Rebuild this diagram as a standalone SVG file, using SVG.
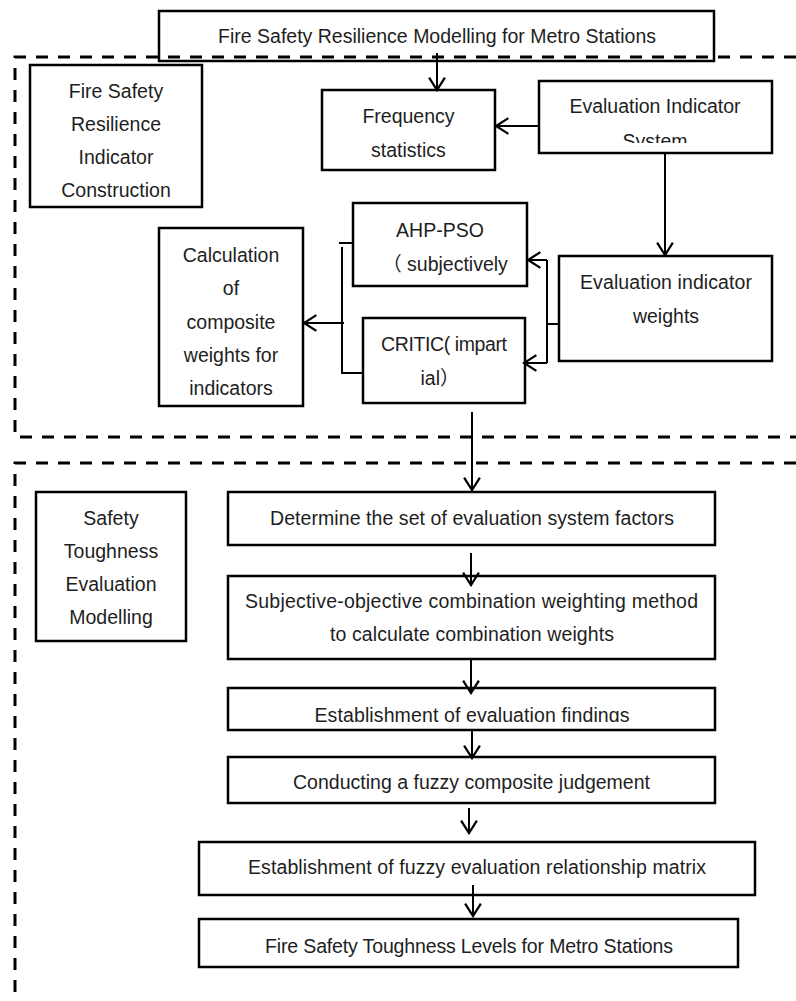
<svg xmlns="http://www.w3.org/2000/svg" width="796" height="1001" viewBox="0 0 796 1001">
<style>
.box{fill:#fff;stroke:#000;stroke-width:2.5}
.t{font-family:"Liberation Sans",Arial,"Noto Sans CJK SC",sans-serif;font-size:19.5px;fill:#1e1e1e;text-anchor:middle}
.c{fill:none;stroke:#000;stroke-width:2}
.dash{fill:none;stroke:#000;stroke-width:3;stroke-dasharray:12 10}
</style>
<defs>
<marker id="arr" markerUnits="userSpaceOnUse" markerWidth="16" markerHeight="18" refX="12" refY="8" orient="auto" viewBox="0 0 14 16">
<path d="M1,1 L12,8 L1,15" fill="none" stroke="#000" stroke-width="2"/>
</marker>
<clipPath id="clipSys"><rect x="539" y="81" width="233" height="62"/></clipPath>
<clipPath id="clipFind"><rect x="228" y="688" width="487" height="34"/></clipPath>
</defs>
<rect width="796" height="1001" fill="#fff"/>

<g id="title">
<rect class="box" x="159" y="11" width="555" height="50"/>
<text class="t" x="437" y="43" textLength="438">Fire Safety Resilience  Modelling for Metro Stations</text>
</g>

<g id="label-construction">
<rect class="box" x="30" y="65" width="172" height="142"/>
<text class="t" x="116" y="98">Fire Safety</text>
<text class="t" x="116" y="131">Resilience</text>
<text class="t" x="116" y="164">Indicator</text>
<text class="t" x="116" y="197">Construction</text>
</g>

<g id="frequency">
<rect class="box" x="322" y="90" width="173" height="80"/>
<text class="t" x="408.5" y="123">Frequency</text>
<text class="t" x="408.5" y="157">statistics</text>
</g>

<g id="eval-system">
<rect class="box" x="539" y="81" width="233" height="72"/>
<text class="t" x="655" y="113" textLength="171">Evaluation Indicator</text>
<text class="t" x="655" y="148" clip-path="url(#clipSys)">System</text>
</g>

<g id="eval-weights">
<rect class="box" x="559" y="256" width="213" height="105"/>
<text class="t" x="666" y="289" textLength="172">Evaluation indicator</text>
<text class="t" x="666" y="323">weights</text>
</g>

<g id="ahp">
<rect class="box" x="353" y="203" width="174" height="83"/>
<text class="t" x="440" y="237">AHP-PSO</text>
<text class="t" x="445" y="271">（ subjectively</text>
</g>

<g id="critic">
<rect class="box" x="363" y="318" width="162" height="85"/>
<text class="t" x="444" y="351" textLength="126">CRITIC( impart</text>
<text class="t" x="440" y="385">ial）</text>
</g>

<g id="calc">
<rect class="box" x="159" y="228" width="144" height="178"/>
<text class="t" x="231" y="262">Calculation</text>
<text class="t" x="231" y="295">of</text>
<text class="t" x="231" y="329">composite</text>
<text class="t" x="231" y="362">weights for</text>
<text class="t" x="231" y="395">indicators</text>
</g>

<g id="label-modelling">
<rect class="box" x="36" y="492" width="150" height="149"/>
<text class="t" x="111" y="525">Safety</text>
<text class="t" x="111" y="558">Toughness</text>
<text class="t" x="111" y="591">Evaluation</text>
<text class="t" x="111" y="624">Modelling</text>
</g>

<g id="determine">
<rect class="box" x="228" y="492" width="487" height="53"/>
<text class="t" x="472" y="525" textLength="404">Determine the set of evaluation system factors</text>
</g>

<g id="subjective">
<rect class="box" x="228" y="576" width="487" height="83"/>
<text class="t" x="471.5" y="608" textLength="453">Subjective-objective combination weighting method</text>
<text class="t" x="472" y="641" textLength="284">to calculate combination weights</text>
</g>

<g id="findings">
<rect class="box" x="228" y="688" width="487" height="42"/>
<text class="t" x="472" y="722" textLength="315" clip-path="url(#clipFind)">Establishment of evaluation findings</text>
</g>

<g id="conducting">
<rect class="box" x="228" y="757" width="487" height="46"/>
<text class="t" x="471.5" y="789" textLength="357">Conducting a fuzzy composite judgement</text>
</g>

<g id="fuzzy-matrix">
<rect class="box" x="199" y="842" width="556" height="53"/>
<text class="t" x="477" y="874" textLength="458">Establishment of fuzzy evaluation relationship matrix</text>
</g>

<g id="levels">
<rect class="box" x="199" y="919" width="539" height="48"/>
<text class="t" x="469" y="953" textLength="408">Fire Safety Toughness Levels for Metro Stations</text>
</g>

<g id="frames">
<path class="dash" d="M796,57 H15 V437 H796"/>
<path class="dash" d="M796,463 H15 V1001"/>
</g>

<g id="connectors">
<path class="c" d="M437,53 V90" marker-end="url(#arr)"/>
<path class="c" d="M539,126 H496" marker-end="url(#arr)"/>
<path class="c" d="M665,153 V255" marker-end="url(#arr)"/>
<path class="c" d="M559,324 H547"/>
<path class="c" d="M547,260 V363"/>
<path class="c" d="M547,260 H528" marker-end="url(#arr)"/>
<path class="c" d="M547,363 H524" marker-end="url(#arr)"/>
<path class="c" d="M339,243 H353"/>
<path class="c" d="M342,247 V373 H363"/>
<path class="c" d="M344,323 H304" marker-end="url(#arr)"/>
<path class="c" d="M472,412 V490" marker-end="url(#arr)"/>
<path class="c" d="M471,553 V585" marker-end="url(#arr)"/>
<path class="c" d="M471,659 V693" marker-end="url(#arr)"/>
<path class="c" d="M472,730 V758" marker-end="url(#arr)"/>
<path class="c" d="M469,808 V833" marker-end="url(#arr)"/>
<path class="c" d="M473,885 V916" marker-end="url(#arr)"/>
</g>
</svg>
